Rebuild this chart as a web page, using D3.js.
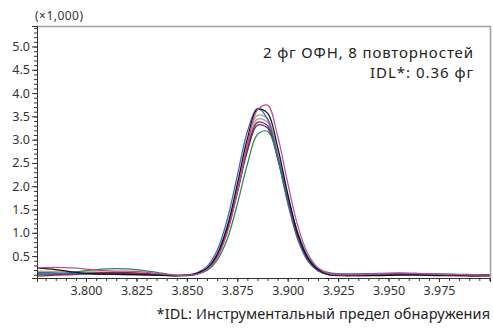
<!DOCTYPE html>
<html><head><meta charset="utf-8">
<script src="https://cdn.jsdelivr.net/npm/d3@7"></script>
<style>
html,body{margin:0;padding:0;background:#fff;}
svg{display:block;font-family:"Noto Sans",sans-serif;}
</style></head>
<body><svg id="c" width="493" height="331"></svg>
<script>
const xValues = [3.775,3.785,3.795,3.805,3.815,3.825,3.835,3.845,
  3.850,3.855,3.860,3.865,3.870,3.875,3.880,3.885,3.890,3.895,3.900,3.905,3.910,3.915,3.920,3.925,3.930,
  3.935,3.945,3.955,3.965,3.975,3.985,3.995,4.000];
const grayRun    = [0.12,0.13,0.12,0.12,0.11,0.10,0.09,0.08, 0.09,0.12,0.23,0.51,1.07,1.92,2.85,3.44,3.37,2.68,1.74,0.93,0.43,0.20,0.11,0.09,0.08, 0.10,0.10,0.11,0.11,0.10,0.09,0.09,0.09];
const khakiRun   = [0.18,0.17,0.16,0.16,0.15,0.13,0.10,0.08, 0.09,0.12,0.23,0.52,1.10,1.97,2.92,3.52,3.45,2.74,1.78,0.95,0.44,0.20,0.11,0.09,0.08, 0.10,0.11,0.12,0.11,0.10,0.10,0.09,0.09];
const navyRun    = [0.12,0.11,0.12,0.13,0.13,0.12,0.10,0.08, 0.09,0.12,0.22,0.50,1.03,1.85,2.75,3.31,3.25,2.59,1.69,0.92,0.44,0.21,0.12,0.10,0.10, 0.11,0.12,0.12,0.12,0.11,0.10,0.09,0.08];
const redRun     = [0.07,0.09,0.11,0.14,0.15,0.14,0.11,0.08, 0.08,0.12,0.22,0.50,1.05,1.88,2.79,3.37,3.30,2.62,1.70,0.91,0.42,0.19,0.10,0.08,0.08, 0.08,0.09,0.10,0.10,0.09,0.08,0.07,0.07];
const greenRun   = [0.10,0.12,0.16,0.21,0.23,0.21,0.15,0.09, 0.09,0.11,0.19,0.41,0.86,1.61,2.47,3.11,3.18,2.64,1.78,1.00,0.49,0.24,0.15,0.12,0.11, 0.11,0.12,0.13,0.12,0.12,0.11,0.10,0.08];
const blueRun    = [0.15,0.14,0.12,0.11,0.11,0.10,0.09,0.08, 0.09,0.14,0.28,0.62,1.28,2.22,3.17,3.67,3.44,2.63,1.64,0.85,0.39,0.18,0.11,0.12,0.12, 0.12,0.13,0.13,0.12,0.11,0.10,0.09,0.08];
const blackRun   = [0.25,0.21,0.15,0.12,0.11,0.10,0.09,0.08, 0.09,0.13,0.24,0.54,1.13,2.04,3.02,3.65,3.57,2.84,1.84,0.98,0.46,0.21,0.11,0.09,0.08, 0.08,0.08,0.09,0.09,0.08,0.08,0.08,0.10];
const magentaRun = [0.25,0.26,0.24,0.20,0.18,0.17,0.13,0.09, 0.09,0.11,0.21,0.46,1.00,1.87,2.89,3.64,3.74,3.08,2.07,1.15,0.55,0.25,0.13,0.10,0.10, 0.10,0.12,0.14,0.13,0.11,0.10,0.09,0.09];
const seriesList = [grayRun,khakiRun,navyRun,redRun,greenRun,blueRun,blackRun,magentaRun];
const seriesColors = ["#a0a0a0","#b5a96a","#3c3c90","#a01830","#2a8a48","#3a62c8","#111111","#c04ca0"];
const xTickValues = [3.800,3.825,3.850,3.875,3.900,3.925,3.950,3.975];
const yTickValues = [0.5,1.0,1.5,2.0,2.5,3.0,3.5,4.0,4.5,5.0];
const yUnitLabel = "(×1,000)";
const noteLine1 = "2 фг ОФН, 8 повторностей";
const noteLine2 = "IDL*: 0.36 фг";
const footnote = "*IDL: Инструментальный предел обнаружения";

const L=37,R=490,T=26,B=278;
const svg=d3.select("#c");
const x=d3.scaleLinear().domain([3.7757,4.0003]).range([L,R]);
const y=d3.scaleLinear().domain([0.03,5.44]).range([B,T]);

svg.append("defs").append("clipPath").attr("id","clip").append("rect")
  .attr("x",L).attr("y",T).attr("width",R-L).attr("height",B-T);

svg.append("path").attr("d",`M${L},${T+0.5}H${R+0.5}V${B}`).attr("fill","none").attr("stroke","#a0a0a0").attr("stroke-width",1.5);

const line=d3.line().x((d,i)=>x(xValues[i])).y(d=>y(d)).curve(d3.curveCatmullRom.alpha(0.5));
const g=svg.append("g").attr("clip-path","url(#clip)");
seriesList.forEach((s,i)=>{
  g.append("path").datum(s).attr("d",line).attr("fill","none")
   .attr("stroke",seriesColors[i]).attr("stroke-width",1.25);
});

const yMinor=d3.range(0.1,5.45,0.1).map(v=>+v.toFixed(1));
const ya=svg.append("g").attr("transform",`translate(${L},0)`);
ya.call(d3.axisLeft(y).tickValues(yMinor).tickSize(3).tickFormat(""));
ya.append("g").call(d3.axisLeft(y).tickValues(yTickValues).tickSize(5).tickFormat(d3.format(".1f")));
ya.selectAll(".domain").attr("stroke","#333");
ya.selectAll("line").attr("stroke","#333");
ya.selectAll("text").attr("font-size",12.5).attr("fill","#333").attr("font-family","Noto Sans").attr("x",-7);

const xMinor=d3.range(3.780,4.0001,0.005).map(v=>+v.toFixed(3));
const xa=svg.append("g").attr("transform",`translate(0,${B})`);
xa.call(d3.axisBottom(x).tickValues(xMinor).tickSize(3).tickFormat(""));
xa.append("g").call(d3.axisBottom(x).tickValues(xTickValues).tickSize(4).tickFormat(d3.format(".3f")));
xa.selectAll(".domain").attr("stroke","#333");
xa.selectAll("line").attr("stroke","#333");
xa.selectAll("text").attr("font-size",12.5).attr("fill","#333").attr("font-family","Noto Sans").attr("y",8);

svg.append("text").attr("x",35).attr("y",20).attr("font-size",12).attr("fill","#333")
  .attr("textLength",48).attr("lengthAdjust","spacing").text(yUnitLabel);
svg.append("text").attr("x",263).attr("y",58).attr("font-size",15).attr("fill","#222")
  .attr("textLength",210).attr("lengthAdjust","spacing").text(noteLine1);
svg.append("text").attr("x",370).attr("y",78).attr("font-size",15).attr("fill","#222")
  .attr("textLength",103).attr("lengthAdjust","spacing").text(noteLine2);

const fs=14.5;
const probe=svg.append("text").attr("font-size",fs).text(footnote);
const fullW=probe.node().getComputedTextLength();
probe.text("альный предел обнаружения");
const subW=probe.node().getComputedTextLength();
probe.remove();
const targetW=Math.min(470, 209*fullW/subW);
svg.append("text").attr("x",490-targetW).attr("y",319).attr("font-size",fs).attr("fill","#222")
  .attr("textLength",targetW).attr("lengthAdjust","spacing").text(footnote);
</script></body></html>
